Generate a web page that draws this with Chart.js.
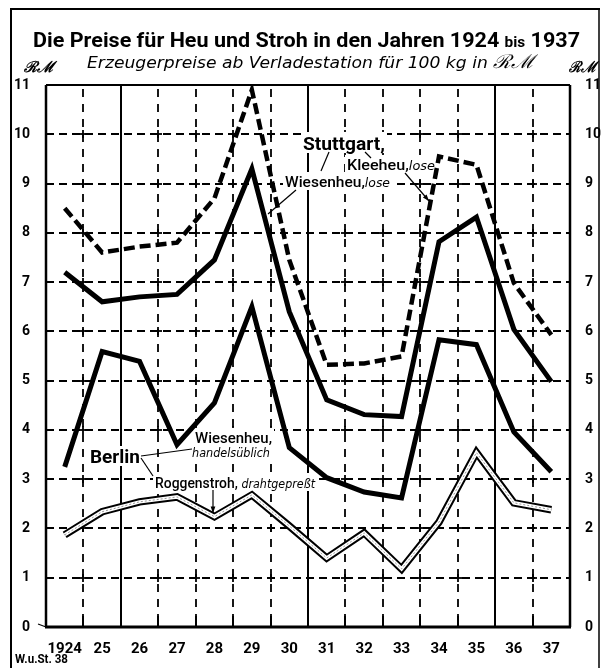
<!DOCTYPE html>
<html><head><meta charset="utf-8">
<script src="https://cdn.jsdelivr.net/npm/chart.js@4.4.1/dist/chart.umd.min.js"></script>
<style>html,body{margin:0;padding:0;background:#fff;overflow:hidden}</style>
</head><body>
<canvas id="c" width="602" height="668" style="width:602px;height:668px;display:block"></canvas>
<script>
// ---- data ----
const years = ['1924','25','26','27','28','29','30','31','32','33','34','35','36','37'];
const stuttgartKleeheu   = [8.5, 7.6, 7.72, 7.8, 8.7, 10.9, 7.45, 5.32, 5.35, 5.49, 9.55, 9.38, 6.98, 5.93];
const stuttgartWiesenheu = [7.2, 6.6, 6.7, 6.75, 7.45, 9.3, 6.4, 4.61, 4.31, 4.27, 7.82, 8.32, 6.04, 4.98];
const berlinWiesenheu    = [3.25, 5.59, 5.39, 3.7, 4.55, 6.5, 3.64, 3.03, 2.74, 2.62, 5.83, 5.73, 3.96, 3.15];
const berlinRoggenstroh  = [1.87, 2.34, 2.54, 2.64, 2.24, 2.68, 2.05, 1.40, 1.91, 1.18, 2.13, 3.54, 2.52, 2.38];
const yMin = 0, yMax = 11;
const solidBoundaries = [2, 7, 12];

const FONT = "Roboto, 'DejaVu Sans', sans-serif";
const IT = "italic 12px 'DejaVu Sans'";
const MED = '500 15px ' + FONT;

// in-chart labels: x, baseline y, parts, target width, white background
const chartLabels = [
  { x: 303, y: 150, w: 82, h: 16, parts: [{ t: 'Stuttgart,', f: 'bold 19px ' + FONT }] },
  { x: 347, y: 170, w: 88, h: 13, parts: [{ t: 'Kleeheu,', f: MED }, { t: 'lose', f: IT }] },
  { x: 285, y: 187, w: 105, h: 13, parts: [{ t: 'Wiesenheu,', f: MED }, { t: 'lose', f: IT }] },
  { x: 90, y: 463, w: 50, h: 15, parts: [{ t: 'Berlin', f: 'bold 18px ' + FONT }] },
  { x: 195, y: 443, w: 77, h: 13, parts: [{ t: 'Wiesenheu,', f: MED }] },
  { x: 192, y: 457, w: 78, h: 10, parts: [{ t: 'handelsüblich', f: IT }] },
  { x: 155, y: 488, w: 160, h: 13, parts: [{ t: 'Roggenstroh,', f: MED }, { t: ' drahtgepreßt', f: IT }] }
];

function runs(ctx, x, y, parts, targetWidth) {
  let total = 0;
  parts.forEach(p => { ctx.font = p.f; p.w = ctx.measureText(p.t).width; total += p.w; });
  const sx = targetWidth ? targetWidth / total : 1;
  ctx.save(); ctx.translate(x, y); ctx.scale(sx, 1);
  ctx.textBaseline = 'alphabetic'; ctx.textAlign = 'left'; ctx.fillStyle = '#000';
  let cx = 0;
  parts.forEach(p => { ctx.font = p.f; ctx.fillText(p.t, cx, 0); cx += p.w; });
  ctx.restore();
}
function line(ctx, x1, y1, x2, y2, w) {
  ctx.beginPath(); ctx.lineWidth = w || 1; ctx.moveTo(x1, y1); ctx.lineTo(x2, y2); ctx.stroke();
}
function arrow(ctx, x1, y1, x2, y2) {
  line(ctx, x1, y1, x2, y2, 1.2);
  const a = Math.atan2(y2 - y1, x2 - x1), L = 7, s = 0.35;
  ctx.beginPath(); ctx.moveTo(x2, y2);
  ctx.lineTo(x2 - L * Math.cos(a - s), y2 - L * Math.sin(a - s));
  ctx.lineTo(x2 - L * Math.cos(a + s), y2 - L * Math.sin(a + s));
  ctx.closePath(); ctx.fill();
}

const gridPlugin = {
  id: 'grid',
  beforeDatasetsDraw(chart) {
    const { ctx, chartArea: { left, right, top, bottom }, scales: { x, y } } = chart;
    ctx.save(); ctx.strokeStyle = '#000'; ctx.fillStyle = '#000';
    ctx.lineCap = 'butt';
    ctx.setLineDash([8, 5]);
    const hy = [];
    for (let v = yMin + 1; v < yMax; v++) {
      const py = Math.round(y.getPixelForValue(v));
      hy.push(py);
      line(ctx, left, py, right, py, 1.8);
    }
    for (let i = 1; i < years.length; i++) {
      const px = Math.round((x.getPixelForValue(i - 1) + x.getPixelForValue(i)) / 2);
      if (solidBoundaries.includes(i)) { ctx.setLineDash([]); line(ctx, px, top, px, bottom, 2); }
      else {
        ctx.setLineDash([8, 7]); line(ctx, px, top + 4, px, bottom, 1.8);
        ctx.setLineDash([]);
        line(ctx, px, bottom - 11, px, bottom, 2);
        hy.forEach(py => { line(ctx, px - 4, py, px + 4, py, 1.8); line(ctx, px, py - 4, px, py + 4, 1.8); });
      }
    }
    ctx.setLineDash([]);
    line(ctx, left, top, right, top, 2.2);
    line(ctx, left - 1, bottom, right + 1, bottom, 3);
    line(ctx, left, top, left, bottom, 2.5);
    line(ctx, right, top, right, bottom, 2.5);
    line(ctx, left - 8, bottom - 3, left, bottom, 1.2);
    // white knock-out behind labels
    ctx.fillStyle = '#fff';
    chartLabels.forEach(l => ctx.fillRect(l.x - 2, l.y - l.h - 2, l.w + 4, l.h + 5));
    ctx.restore();
  }
};

const textPlugin = {
  id: 'texts',
  afterDraw(chart) {
    const ctx = chart.ctx;
    ctx.save(); ctx.strokeStyle = '#000'; ctx.fillStyle = '#000';
    // frame
    line(ctx, 10, 9, 600, 9, 2);
    line(ctx, 11, 9, 11, 668, 2);
    line(ctx, 599, 9, 599, 668, 1.5);
    // title
    runs(ctx, 33, 47, [
      { t: 'Die Preise für Heu und Stroh in den Jahren 1924 ', f: 'bold 21px ' + FONT },
      { t: 'bis', f: 'bold 15px ' + FONT },
      { t: ' 1937', f: 'bold 21px ' + FONT }
    ], 547);
    // subtitle
    runs(ctx, 87, 68, [
      { t: 'Erzeugerpreise ab Verladestation für 100 kg in ', f: "italic 16px 'DejaVu Sans'" },
      { t: 'ℛℳ', f: "italic 19px 'DejaVu Serif'" }
    ], 448);
    // unit labels
    runs(ctx, 24, 72, [{ t: 'ℛℳ', f: "italic bold 15px 'DejaVu Serif'" }], 30);
    runs(ctx, 569, 72, [{ t: 'ℛℳ', f: "italic bold 15px 'DejaVu Serif'" }], 27);
    // in-chart labels
    chartLabels.forEach(l => runs(ctx, l.x, l.y, l.parts, l.w));
    // leader lines
    line(ctx, 329, 152, 321, 171, 1.2);
    line(ctx, 365, 152, 371, 158, 1.2);
    line(ctx, 296, 190, 268, 214, 1.2);
    arrow(ctx, 405, 173, 429, 201);
    line(ctx, 141, 456, 192, 449, 1.2);
    line(ctx, 141, 458, 153, 476, 1.2);
    arrow(ctx, 213, 490, 213, 513);
    // source
    runs(ctx, 15, 663, [{ t: 'W.u.St. 38', f: 'bold 12px ' + FONT }], 53);
    ctx.restore();
  }
};

const tickFont = { family: FONT, weight: 'bold', size: 14 };
new Chart(document.getElementById('c'), {
  type: 'line',
  data: {
    labels: years,
    datasets: [
      { label: 'Stuttgart Kleeheu, lose', data: stuttgartKleeheu, borderColor: '#000', borderWidth: 4.5, borderDash: [11, 5] },
      { label: 'Stuttgart Wiesenheu, lose', data: stuttgartWiesenheu, borderColor: '#000', borderWidth: 5 },
      { label: 'Berlin Wiesenheu, handelsüblich', data: berlinWiesenheu, borderColor: '#000', borderWidth: 5 },
      { label: 'Roggenstroh (Mitte)', data: berlinRoggenstroh, borderColor: '#999', borderWidth: 1, borderDash: [2, 2] },
      { label: 'Roggenstroh (innen)', data: berlinRoggenstroh, borderColor: '#fff', borderWidth: 3.5 },
      { label: 'Berlin Roggenstroh, drahtgepreßt', data: berlinRoggenstroh, borderColor: '#000', borderWidth: 7.5 }
    ]
  },
  options: {
    responsive: false,
    animation: false,
    devicePixelRatio: 1,
    layout: { padding: { top: 85, bottom: 11, left: 0, right: 0 } },
    elements: { point: { radius: 0 }, line: { tension: 0, borderJoinStyle: 'miter', borderCapStyle: 'butt' } },
    plugins: { legend: { display: false }, title: { display: false }, tooltip: { enabled: false } },
    scales: {
      x: {
        type: 'category', offset: true,
        grid: { display: false }, border: { display: false },
        ticks: { color: '#000', font: { family: FONT, weight: 'bold', size: 15 }, padding: 5, maxRotation: 0, autoSkip: false },
        afterFit: s => { s.height = 30; }
      },
      y: {
        position: 'left', min: yMin, max: yMax,
        grid: { display: false }, border: { display: false },
        ticks: { stepSize: 1, color: '#000', font: tickFont, padding: 8 },
        afterFit: s => { s.width = 46; }
      },
      y2: {
        position: 'right', min: yMin, max: yMax,
        grid: { display: false }, border: { display: false },
        ticks: { stepSize: 1, color: '#000', font: tickFont, padding: 7 },
        afterFit: s => { s.width = 32; }
      }
    }
  },
  plugins: [gridPlugin, textPlugin]
});
</script>
</body></html>
